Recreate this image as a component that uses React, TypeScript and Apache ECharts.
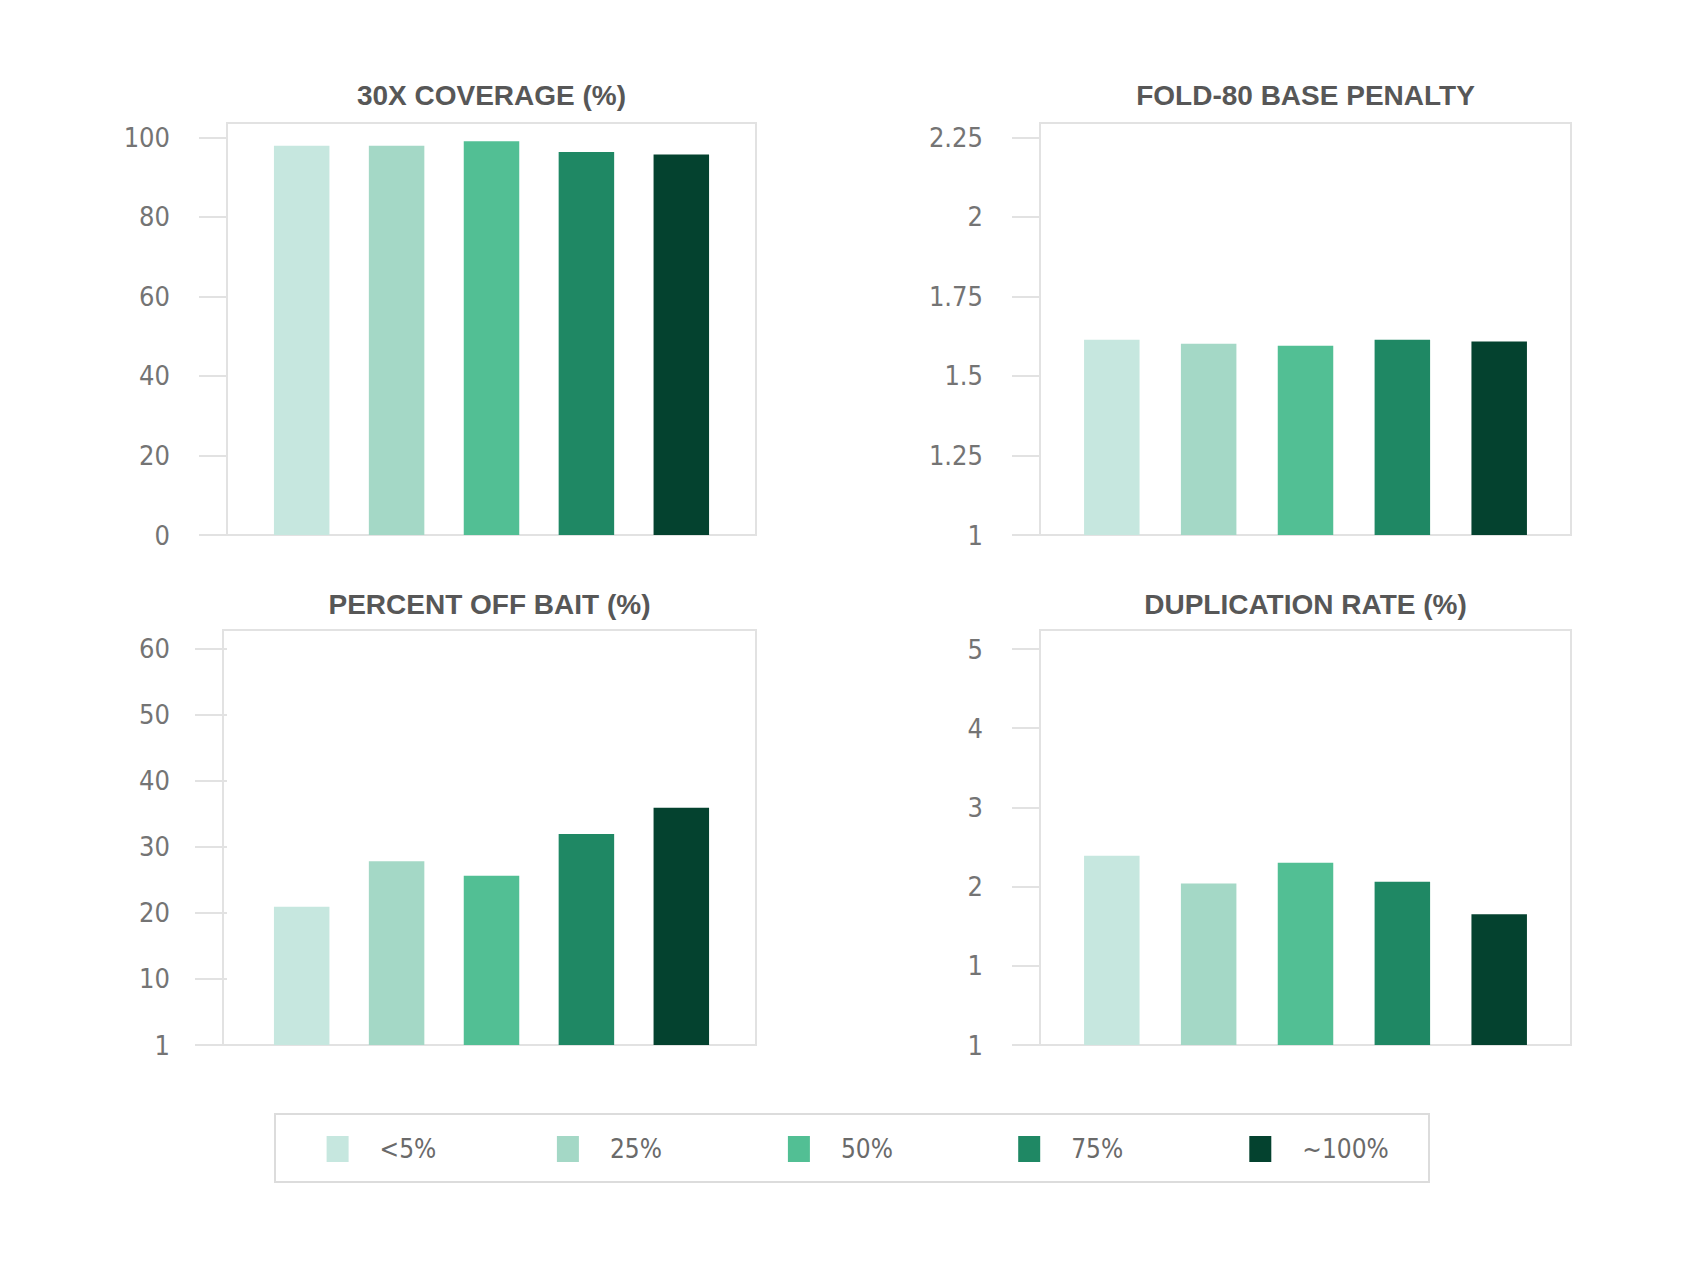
import React, { useEffect, useRef } from "react";
import * as echarts from "echarts";

// ---------- data ----------
const categories = ["<5%", "25%", "50%", "75%", "~100%"];
const barColors = ["#c6e7df", "#a4d8c6", "#52bf94", "#1f8864", "#04422f"];

const coverage30x = [97.9, 97.9, 99.0, 96.3, 95.7];
const fold80Penalty = [1.614, 1.601, 1.595, 1.614, 1.608];
const percentOffBait = [20.9, 27.8, 25.6, 31.9, 35.9];
const duplicationRate = [2.39, 2.04, 2.3, 2.06, 1.65];

const coverageTicks = [0, 20, 40, 60, 80, 100];
const coverageTickLabels = ["0", "20", "40", "60", "80", "100"];
const foldTicks = [1, 1.25, 1.5, 1.75, 2, 2.25];
const foldTickLabels = ["1", "1.25", "1.5", "1.75", "2", "2.25"];
const offBaitTicks = [0, 10, 20, 30, 40, 50, 60];
const offBaitTickLabels = ["1", "10", "20", "30", "40", "50", "60"];
const dupTicks = [0, 1, 2, 3, 4, 5];
const dupTickLabels = ["1", "1", "2", "3", "4", "5"];

const panelTitles = [
  "30X COVERAGE (%)",
  "FOLD-80 BASE PENALTY",
  "PERCENT OFF BAIT (%)",
  "DUPLICATION RATE (%)",
];

// ---------- layout / style ----------
const LABEL_FONT =
  "'Liberation Sans Narrow', 'DejaVu Sans Condensed', 'Liberation Sans', sans-serif";
const TITLE_FONT = "'Liberation Sans', Arial, sans-serif";
const FRAME = "#e2e2e2";

// grid = plotting area used for bars; frame = drawn border box
const panels = [
  { values: coverage30x, ticks: coverageTicks, labels: coverageTickLabels, min: 0, max: 103.6,
    left: 227, top: 123, width: 529, height: 412, frameLeft: 227, margin: 57, barGap: "71%" },
  { values: fold80Penalty, ticks: foldTicks, labels: foldTickLabels, min: 1, max: 2.295,
    left: 1040, top: 123, width: 531, height: 412, frameLeft: 1040, margin: 57, barGap: "74.5%" },
  { values: percentOffBait, ticks: offBaitTicks, labels: offBaitTickLabels, min: 0, max: 62.77,
    left: 227, top: 630, width: 529, height: 415, frameLeft: 223, margin: 57, barGap: "71%" },
  { values: duplicationRate, ticks: dupTicks, labels: dupTickLabels, min: 0, max: 5.24,
    left: 1040, top: 630, width: 531, height: 415, frameLeft: 1040, margin: 57, barGap: "74.5%" },
];
const titleY = [95.5, 95.5, 604.5, 604.5];
const legendX = [326.6, 556.9, 787.9, 1018.2, 1249.3];

function buildOption(): any {
  const grid = panels.map((p) => ({
    left: p.left,
    top: p.top,
    width: p.width,
    height: p.height,
    show: false,
    containLabel: false,
  }));

  const xAxis = panels.map((_, i) => ({
    type: "category",
    gridIndex: i,
    data: [""],
    axisLine: { show: false },
    axisTick: { show: false },
    axisLabel: { show: false },
    splitLine: { show: false },
  }));

  const yAxis = panels.map((p, i) => ({
    type: "value",
    gridIndex: i,
    min: p.min,
    max: p.max,
    axisLine: { show: false },
    splitLine: { show: false },
    axisTick: {
      show: true,
      customValues: p.ticks,
      length: 28 + (p.left - p.frameLeft),
      lineStyle: { color: FRAME, width: 2 },
    },
    axisLabel: {
      show: true,
      customValues: p.ticks,
      margin: p.margin,
      fontFamily: LABEL_FONT,
      fontSize: 27,
      color: "#747474",
      formatter: (v: number) => {
        const idx = p.ticks.findIndex((t) => Math.abs(t - v) < 1e-6);
        return idx >= 0 ? p.labels[idx] : "";
      },
    },
  }));

  const series: any[] = [];
  panels.forEach((p, i) => {
    categories.forEach((c, j) => {
      series.push({
        type: "bar",
        name: c,
        xAxisIndex: i,
        yAxisIndex: i,
        data: [p.values[j]],
        barWidth: 55.5,
        barGap: p.barGap,
        clip: true,
        itemStyle: { color: barColors[j] },
        emphasis: { disabled: true },
      });
    });
  });

  const legend = categories.map((c, j) => ({
    data: [c],
    left: legendX[j],
    top: 1136,
    padding: 0,
    itemWidth: 22,
    itemHeight: 26,
    icon: "rect",
    selectedMode: false,
    textStyle: {
      fontFamily: LABEL_FONT,
      fontSize: 26,
      color: "#6a6a6a",
      padding: [0, 0, 0, 26],
    },
  }));

  const graphic: any[] = panelTitles.map((t, i) => ({
    type: "text",
    x: (panels[i].frameLeft + panels[i].left + panels[i].width) / 2,
    y: titleY[i],
    style: {
      text: t,
      align: "center",
      verticalAlign: "middle",
      font: `bold 28px ${TITLE_FONT}`,
      fill: "#575757",
    },
  }));
  panels.forEach((p) => {
    graphic.push({
      type: "rect",
      shape: {
        x: p.frameLeft,
        y: p.top,
        width: p.left + p.width - p.frameLeft,
        height: p.height,
      },
      style: { fill: "none", stroke: FRAME, lineWidth: 2 },
      z: -1,
    });
  });
  graphic.push({
    type: "rect",
    shape: { x: 275, y: 1114, width: 1154, height: 68 },
    style: { fill: "none", stroke: "#dcdcdc", lineWidth: 2 },
    z: -1,
  });

  return {
    animation: false,
    backgroundColor: "#ffffff",
    grid,
    xAxis,
    yAxis,
    series,
    legend,
    graphic,
  };
}

export default function App() {
  const ref = useRef<HTMLDivElement | null>(null);
  useEffect(() => {
    if (!ref.current) return;
    const chart = echarts.init(ref.current, null, { renderer: "svg" });
    chart.setOption(buildOption());
    return () => chart.dispose();
  }, []);
  return (
    <div
      ref={ref}
      style={{ position: "absolute", left: 0, top: 0, width: 1700, height: 1275, background: "#fff" }}
    />
  );
}
